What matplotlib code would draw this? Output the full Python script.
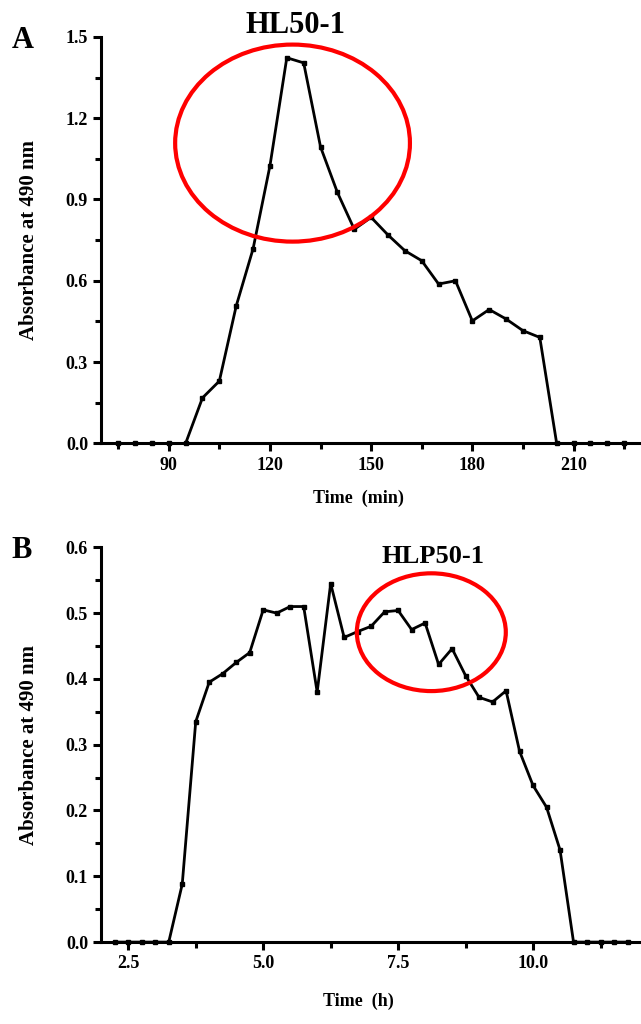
import numpy as np
import matplotlib
matplotlib.use('Agg')
import matplotlib.pyplot as plt
from matplotlib.patches import Ellipse
from matplotlib.ticker import MultipleLocator

plt.rcParams['font.family'] = ['Liberation Serif', 'DejaVu Serif']
plt.rcParams['font.weight'] = 'bold'

# Panel A: HL50-1, time in minutes
time_a = [75, 80, 85, 90, 95, 100, 105, 110, 115, 120, 125, 130, 135, 140, 145,
          150, 155, 160, 165, 170, 175, 180, 185, 190, 195, 200, 205, 210, 215, 220, 225]
abs_a = [0.0, 0.0, 0.0, 0.0, 0.0, 0.168, 0.23, 0.507, 0.718, 1.024, 1.423, 1.404, 1.094,
         0.926, 0.79, 0.834, 0.769, 0.711, 0.674, 0.588, 0.60, 0.452, 0.494, 0.459,
         0.416, 0.391, 0.0, 0.0, 0.0, 0.0, 0.0]

# Panel B: HLP50-1, time in hours
time_b = [2.25, 2.5, 2.75, 3.0, 3.25, 3.5, 3.75, 4.0, 4.25, 4.5, 4.75, 5.0, 5.25, 5.5,
          5.75, 6.0, 6.25, 6.5, 6.75, 7.0, 7.25, 7.5, 7.75, 8.0, 8.25, 8.5, 8.75, 9.0,
          9.25, 9.5, 9.75, 10.0, 10.25, 10.5, 10.75, 11.0, 11.25, 11.5, 11.75]
abs_b = [0.0, 0.0, 0.0, 0.0, 0.0, 0.088, 0.335, 0.395, 0.408, 0.425, 0.44, 0.505, 0.50,
         0.51, 0.51, 0.38, 0.545, 0.463, 0.472, 0.48, 0.502, 0.504, 0.475, 0.485, 0.422,
         0.446, 0.405, 0.372, 0.365, 0.382, 0.29, 0.238, 0.205, 0.14, 0.0, 0.0, 0.0, 0.0, 0.0]


def style_axis(ax):
    for side in ['top', 'right']:
        ax.spines[side].set_visible(False)
    for side in ['left', 'bottom']:
        ax.spines[side].set_linewidth(2.2)
    ax.tick_params(which='major', direction='out', length=6, width=2.2, labelsize=13)
    ax.tick_params(which='minor', direction='out', length=4, width=2.2)
    for lab in ax.get_xticklabels() + ax.get_yticklabels():
        lab.set_fontweight('bold')


fig = plt.figure(figsize=(6.41, 10.24), dpi=100)

# ---- A ----
ax1 = fig.add_axes([0.158, 0.567, 0.842, 0.397])
ax1.plot(time_a, abs_a, color='black', lw=2.0, marker='s', ms=2.5, clip_on=False, zorder=3)
ax1.set_xlim(70, 230)
ax1.set_ylim(0, 1.5)
ax1.xaxis.set_major_locator(MultipleLocator(30))
ax1.xaxis.set_minor_locator(MultipleLocator(15))
ax1.yaxis.set_major_locator(MultipleLocator(0.3))
ax1.yaxis.set_minor_locator(MultipleLocator(0.15))
ax1.yaxis.set_major_formatter(plt.FormatStrFormatter('%.1f'))
style_axis(ax1)
ax1.set_xlabel('Time  (min)', fontsize=13, fontweight='bold')
ax1.set_ylabel('Absorbance at 490 nm', fontsize=15, fontweight='bold')
ax1.xaxis.set_label_coords(0.477, -0.115)
ax1.yaxis.set_label_coords(-0.115, 0.5)
ax1.add_patch(Ellipse((126.7, 1.108), 69.6, 0.727, fill=False, ec='#ff0000', lw=3.0, zorder=4))
ax1.text(0.36, 1.009, 'HL50-1', transform=ax1.transAxes, ha='center', va='baseline',
         fontsize=22, fontweight='bold')
fig.text(0.018, 0.96, 'A', fontsize=22, fontweight='bold', va='center')

# ---- B ----
ax2 = fig.add_axes([0.158, 0.080, 0.842, 0.3855])
ax2.plot(time_b, abs_b, color='black', lw=2.0, marker='s', ms=2.5, clip_on=False, zorder=3)
ax2.set_xlim(2.0, 12.0)
ax2.set_ylim(0, 0.6)
ax2.xaxis.set_major_locator(MultipleLocator(2.5))
ax2.xaxis.set_minor_locator(MultipleLocator(1.25))
ax2.yaxis.set_major_locator(MultipleLocator(0.1))
ax2.yaxis.set_minor_locator(MultipleLocator(0.05))
ax2.xaxis.set_major_formatter(plt.FormatStrFormatter('%.1f'))
ax2.yaxis.set_major_formatter(plt.FormatStrFormatter('%.1f'))
style_axis(ax2)
ax2.set_xlabel('Time  (h)', fontsize=13, fontweight='bold')
ax2.set_ylabel('Absorbance at 490 nm', fontsize=15, fontweight='bold')
ax2.xaxis.set_label_coords(0.477, -0.128)
ax2.yaxis.set_label_coords(-0.115, 0.5)
ax2.add_patch(Ellipse((8.115, 0.471), 2.76, 0.179, fill=False, ec='#ff0000', lw=3.0, zorder=4))
ax2.text(0.615, 1.005, 'HLP50-1', transform=ax2.transAxes, ha='center', va='top',
         fontsize=19, fontweight='bold')
fig.text(0.018, 0.462, 'B', fontsize=22, fontweight='bold', va='center')

fig.savefig('out.png', dpi=100)
